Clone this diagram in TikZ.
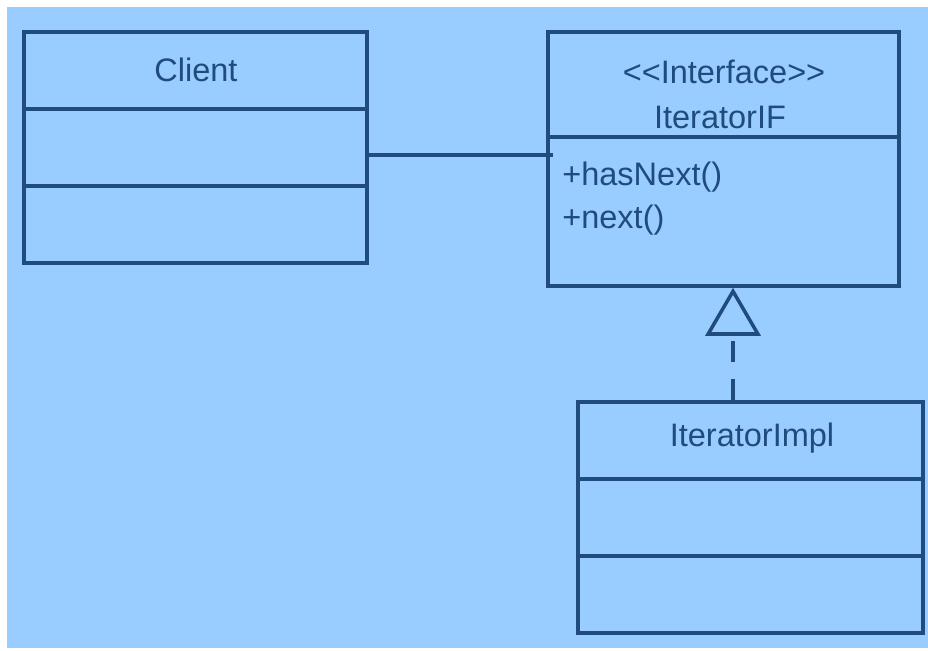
\documentclass[tikz,border=0pt]{standalone}
\usepackage{fontspec}
\setmainfont{Liberation Sans}
\usetikzlibrary{arrows.meta,positioning,fit,calc}
\definecolor{umlbg}{HTML}{99CCFF}
\definecolor{umlline}{HTML}{1F4C7C}

\begin{document}
\begin{tikzpicture}[x=0.02cm,y=-0.02cm,font=\fontsize{18.5}{22}\selectfont,
    cls/.style={draw=umlline, line width=2pt, inner sep=0pt},
    sep/.style={draw=umlline, line width=2pt},
    txt/.style={text=umlline, inner sep=0pt},
    realize/.style={draw=umlline, line width=2pt, dash pattern=on 12pt off 9.5pt,
                    -{Triangle[open, width=1.1cm, length=0.96cm, line width=2pt]}}]
  \useasboundingbox (0,0) rectangle (928,650);
  \fill[umlbg] (7,7) rectangle (928,648);
  % ---- classes ----
  \node[cls, fit={(24,32) (367,263)}] (client) {};
  \node[cls, fit={(548,32) (899,286)}] (iface) {};
  \node[cls, fit={(578,402) (923,633)}] (impl) {};
  % ---- compartments ----
  \draw[sep] (client.west |- 0,109) -- (client.east |- 0,109);
  \draw[sep] (client.west |- 0,186) -- (client.east |- 0,186);
  \draw[sep] (iface.west |- 0,137) -- (iface.east |- 0,137);
  \draw[sep] (impl.west |- 0,479) -- (impl.east |- 0,479);
  \draw[sep] (impl.west |- 0,556) -- (impl.east |- 0,556);
  % ---- labels ----
  \node[txt] (clientname) at (196,70) {Client};
  \node[txt] (stereo) at (724,72) {<{}<Interface>{}>};
  \node[txt] (ifacename) at (720,117) {IteratorIF};
  \node[txt, anchor=west] (op1) at (562,177) {+hasNext()};
  \node[txt, anchor=west] (op2) at (562,220) {+next()};
  \node[txt] (implname) at (752,438) {IteratorImpl};
  % ---- relations ----
  \draw[sep] (client.east |- 0,155) -- ($(iface.west |- 0,155)+(7,0)$);
  \draw[realize] (impl.north -| 733,0) -- (iface.south -| 733,0);
\end{tikzpicture}
\end{document}
